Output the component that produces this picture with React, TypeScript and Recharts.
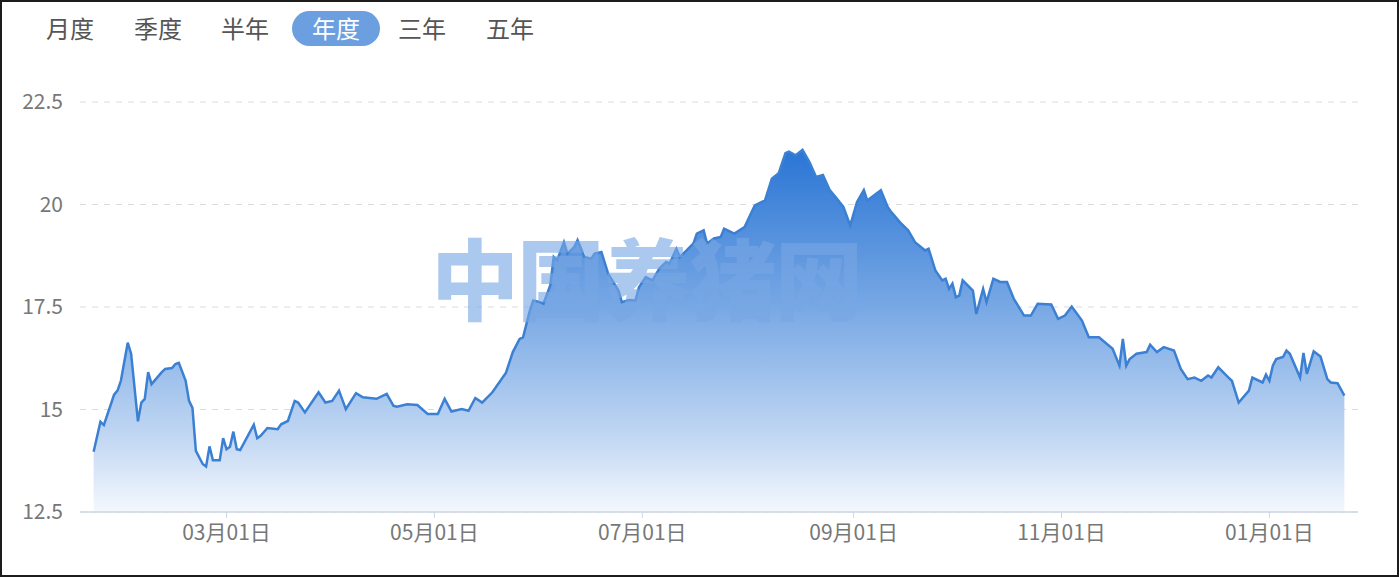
import React from "react"
import { AreaChart, Area, XAxis, YAxis, CartesianGrid } from "recharts"

// 报价日期（2024-01 ~ 2025-01）
const dates = [
  "2024-01-22", "2024-01-24", "2024-01-25", "2024-01-28", "2024-01-29", "2024-01-30",
  "2024-02-01", "2024-02-02", "2024-02-04", "2024-02-05", "2024-02-06", "2024-02-07",
  "2024-02-08", "2024-02-11", "2024-02-12", "2024-02-14", "2024-02-15", "2024-02-16",
  "2024-02-18", "2024-02-19", "2024-02-20", "2024-02-21", "2024-02-23", "2024-02-24",
  "2024-02-25", "2024-02-26", "2024-02-28", "2024-02-29", "2024-03-01", "2024-03-02",
  "2024-03-03", "2024-03-04", "2024-03-05", "2024-03-09", "2024-03-10", "2024-03-11",
  "2024-03-13", "2024-03-16", "2024-03-17", "2024-03-19", "2024-03-21", "2024-03-22",
  "2024-03-24", "2024-03-28", "2024-03-30", "2024-04-01", "2024-04-03", "2024-04-05",
  "2024-04-08", "2024-04-10", "2024-04-14", "2024-04-17", "2024-04-19", "2024-04-20",
  "2024-04-23", "2024-04-26", "2024-04-29", "2024-05-02", "2024-05-04", "2024-05-06",
  "2024-05-09", "2024-05-11", "2024-05-13", "2024-05-15", "2024-05-18", "2024-05-20",
  "2024-05-22", "2024-05-24", "2024-05-26", "2024-05-27", "2024-05-29", "2024-05-30",
  "2024-06-01", "2024-06-02", "2024-06-04", "2024-06-05", "2024-06-06", "2024-06-08",
  "2024-06-09", "2024-06-11", "2024-06-12", "2024-06-14", "2024-06-16", "2024-06-17",
  "2024-06-19", "2024-06-21", "2024-06-24", "2024-06-25", "2024-06-27", "2024-06-29",
  "2024-06-30", "2024-07-02", "2024-07-04", "2024-07-06", "2024-07-08", "2024-07-09",
  "2024-07-11", "2024-07-12", "2024-07-14", "2024-07-16", "2024-07-17", "2024-07-19",
  "2024-07-20", "2024-07-22", "2024-07-24", "2024-07-25", "2024-07-28", "2024-07-31",
  "2024-08-03", "2024-08-06", "2024-08-08", "2024-08-10", "2024-08-12", "2024-08-13",
  "2024-08-15", "2024-08-17", "2024-08-19", "2024-08-21", "2024-08-23", "2024-08-25",
  "2024-08-27", "2024-08-29", "2024-08-31", "2024-09-02", "2024-09-04", "2024-09-05",
  "2024-09-09", "2024-09-11", "2024-09-12", "2024-09-15", "2024-09-17", "2024-09-19",
  "2024-09-22", "2024-09-23", "2024-09-25", "2024-09-27", "2024-09-28", "2024-09-29",
  "2024-09-30", "2024-10-01", "2024-10-02", "2024-10-03", "2024-10-06", "2024-10-07",
  "2024-10-09", "2024-10-10", "2024-10-12", "2024-10-14", "2024-10-16", "2024-10-18",
  "2024-10-21", "2024-10-23", "2024-10-25", "2024-10-29", "2024-10-31", "2024-11-02",
  "2024-11-04", "2024-11-07", "2024-11-09", "2024-11-12", "2024-11-16", "2024-11-18",
  "2024-11-19", "2024-11-20", "2024-11-21", "2024-11-23", "2024-11-26", "2024-11-27",
  "2024-11-29", "2024-12-01", "2024-12-04", "2024-12-06", "2024-12-08", "2024-12-10",
  "2024-12-12", "2024-12-14", "2024-12-15", "2024-12-17", "2024-12-20", "2024-12-21",
  "2024-12-23", "2024-12-26", "2024-12-27", "2024-12-30", "2024-12-31", "2025-01-01",
  "2025-01-02", "2025-01-03", "2025-01-05", "2025-01-06", "2025-01-07", "2025-01-10",
  "2025-01-11", "2025-01-12", "2025-01-14", "2025-01-16", "2025-01-18", "2025-01-19",
  "2025-01-21", "2025-01-23",
]

// 价格（元/公斤）
const prices = [
  13.97, 14.7, 14.62, 15.36, 15.46, 15.7,
  16.63, 16.36, 14.71, 15.17, 15.26, 15.91,
  15.62, 15.91, 15.99, 16.01, 16.11, 16.14,
  15.7, 15.21, 15.04, 13.99, 13.67, 13.61,
  14.1, 13.76, 13.76, 14.3, 14.03, 14.09,
  14.46, 14.03, 14.01, 14.63, 14.3, 14.36,
  14.55, 14.52, 14.64, 14.72, 15.21, 15.17,
  14.93, 15.42, 15.17, 15.21, 15.46, 15.01,
  15.4, 15.3, 15.26, 15.38, 15.09, 15.07,
  15.13, 15.11, 14.89, 14.89, 15.26, 14.95,
  15.01, 14.97, 15.28, 15.17, 15.42, 15.66,
  15.9, 16.4, 16.72, 16.76, 17.41, 17.66,
  17.62, 17.58, 18.03, 18.72, 18.64, 19.08,
  18.8, 18.96, 19.13, 18.72, 18.68, 18.8,
  18.84, 18.31, 17.9, 17.62, 17.67, 17.66,
  17.98, 18.23, 18.15, 18.44, 18.6, 18.56,
  18.92, 18.72, 18.88, 19.05, 19.29, 19.37,
  19.05, 19.17, 19.21, 19.41, 19.29, 19.45,
  19.98, 20.1, 20.63, 20.76, 21.25, 21.29,
  21.2, 21.33, 21.04, 20.67, 20.72, 20.35,
  20.15, 19.94, 19.49, 20.06, 20.35, 20.1,
  20.35, 19.94, 19.82, 19.53, 19.37, 19.08,
  18.88, 18.92, 18.39, 18.15, 18.19, 17.94,
  18.07, 17.74, 17.78, 18.15, 17.9, 17.33,
  17.94, 17.62, 18.19, 18.11, 18.11, 17.7,
  17.29, 17.29, 17.58, 17.56, 17.21, 17.29,
  17.51, 17.17, 16.76, 16.76, 16.48, 16.07,
  16.72, 16.07, 16.23, 16.36, 16.4, 16.58,
  16.4, 16.52, 16.44, 15.99, 15.74, 15.78,
  15.7, 15.83, 15.78, 16.03, 15.78, 15.7,
  15.17, 15.46, 15.78, 15.66, 15.85, 15.7,
  16.07, 16.23, 16.28, 16.44, 16.36, 15.78,
  16.38, 15.87, 16.42, 16.29, 15.74, 15.66,
  15.64, 15.34,
]

const tabs = ["月度", "季度", "半年", "年度", "三年", "五年"]
const activeTab = "年度"

const yTicks = [12.5, 15, 17.5, 20, 22.5]
const xTickDates = ["2024-03-01", "2024-05-01", "2024-07-01", "2024-09-01", "2024-11-01", "2025-01-01"]
const xDomainDates = ["2024-01-18", "2025-01-27"]

const toTs = (s: string) => {
  const [y, m, d] = s.split("-").map(Number)
  return Date.UTC(y, m - 1, d)
}

const data = dates.map((d, i) => ({ t: toTs(d), price: prices[i] }))

const pad = (n: number) => (n < 10 ? "0" + n : "" + n)
const fmtTick = (t: number) => {
  const d = new Date(t)
  return `${pad(d.getUTCMonth() + 1)}月${pad(d.getUTCDate())}日`
}

const tabX = [46, 134, 221, 292, 398, 486]
const cjk = "'Noto Sans CJK SC', 'Noto Sans', sans-serif"

export default function App() {
  return (
    <div
      style={{
        position: "absolute",
        left: 0,
        top: 0,
        width: 1399,
        height: 577,
        background: "#fff",
        overflow: "hidden",
        fontFamily: cjk,
      }}
    >
      {tabs.map((t, i) =>
        t === activeTab ? (
          <div
            key={t}
            style={{
              position: "absolute",
              left: tabX[i],
              top: 11,
              width: 88,
              height: 35,
              borderRadius: 18,
              background: "#6b9fdf",
              color: "#fff",
              fontSize: 24,
              lineHeight: "34px",
              textAlign: "center",
            }}
          >
            {t}
          </div>
        ) : (
          <div
            key={t}
            style={{
              position: "absolute",
              left: tabX[i],
              top: 11,
              height: 35,
              color: "#555",
              fontSize: 24,
              lineHeight: "34px",
            }}
          >
            {t}
          </div>
        )
      )}

      <AreaChart
        width={1399}
        height={577}
        data={data}
        margin={{ top: 102, right: 41, left: 0, bottom: 25 }}
      >
        <defs>
          <linearGradient id="priceFill" x1="0" y1="0" x2="0" y2="1">
            <stop offset="0%" stopColor="#2a75d5" stopOpacity={1} />
            <stop offset="45%" stopColor="#7baae5" stopOpacity={1} />
            <stop offset="80%" stopColor="#c3d8f3" stopOpacity={1} />
            <stop offset="100%" stopColor="#f4f8fe" stopOpacity={1} />
          </linearGradient>
        </defs>
        <CartesianGrid vertical={false} stroke="#dcdcdc" strokeDasharray="6 6" />
        <XAxis
          dataKey="t"
          type="number"
          scale="time"
          domain={[toTs(xDomainDates[0]), toTs(xDomainDates[1])]}
          ticks={xTickDates.map(toTs)}
          tickFormatter={fmtTick}
          height={40}
          axisLine={{ stroke: "#ccd6e2", strokeWidth: 1.5 }}
          tickLine={{ stroke: "#ccd6e2" }}
          tickSize={6}
          tickMargin={7}
          tick={{ fill: "#777", fontSize: 21, fontFamily: cjk }}
          allowDataOverflow
        />
        <YAxis
          domain={[12.5, 22.5]}
          ticks={yTicks}
          width={80}
          axisLine={false}
          tickLine={false}
          tickMargin={11}
          tick={{ fill: "#777", fontSize: 21, fontFamily: cjk }}
          allowDataOverflow
        />
        <Area
          type="linear"
          dataKey="price"
          stroke="#3b80d2"
          strokeWidth={2.5}
          fill="url(#priceFill)"
          fillOpacity={1}
          baseValue={12.5}
          dot={false}
          activeDot={false}
          isAnimationActive={false}
        />
      </AreaChart>

      <div
        style={{
          position: "absolute",
          left: 428,
          top: 220,
          width: 436,
          textAlign: "center",
          fontSize: 88,
          fontWeight: 900,
          lineHeight: "110px",
          color: "rgba(120, 166, 228, 0.62)",
          letterSpacing: -2,
          pointerEvents: "none",
          whiteSpace: "nowrap",
        }}
      >
        中国养猪网
      </div>

      <div
        style={{
          position: "absolute",
          inset: 0,
          border: "2px solid #1c1c1c",
          pointerEvents: "none",
        }}
      />
    </div>
  )
}
